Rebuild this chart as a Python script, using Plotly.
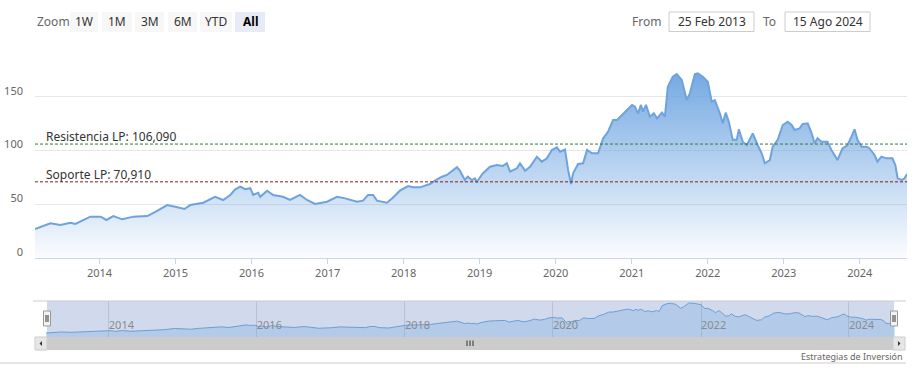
import plotly.graph_objects as go

# ---------------- data ----------------
dates = [
    "2013-02-25", "2013-05-10", "2013-06-27", "2013-08-14", "2013-09-07", "2013-11-18",
    "2014-01-06", "2014-02-03", "2014-03-08", "2014-04-20", "2014-06-13", "2014-08-19",
    "2014-09-26", "2014-11-22", "2015-01-10", "2015-02-13", "2015-03-13", "2015-05-14",
    "2015-07-10", "2015-08-18", "2015-09-21", "2015-10-15", "2015-11-08", "2015-12-02",
    "2015-12-26", "2016-01-09", "2016-02-02", "2016-02-12", "2016-03-16", "2016-04-14",
    "2016-06-01", "2016-07-04", "2016-08-21", "2016-09-24", "2016-11-01", "2016-12-29",
    "2017-02-15", "2017-03-26", "2017-05-22", "2017-06-20", "2017-07-14", "2017-08-07",
    "2017-08-26", "2017-10-13", "2017-11-06", "2017-12-14", "2018-01-22", "2018-02-15",
    "2018-03-20", "2018-05-07", "2018-06-10", "2018-07-04", "2018-07-28", "2018-08-21",
    "2018-09-14", "2018-09-28", "2018-10-22", "2018-11-05", "2018-11-25", "2018-12-09",
    "2018-12-19", "2019-01-17", "2019-02-20", "2019-03-25", "2019-04-23", "2019-05-12",
    "2019-05-27", "2019-06-29", "2019-07-14", "2019-08-07", "2019-08-31", "2019-10-03",
    "2019-10-27", "2019-11-20", "2019-12-14", "2020-01-07", "2020-01-22", "2020-02-15",
    "2020-03-01", "2020-03-15", "2020-03-25", "2020-04-18", "2020-05-12", "2020-05-31",
    "2020-06-24", "2020-07-23", "2020-08-16", "2020-09-09", "2020-10-03", "2020-10-22",
    "2020-11-15", "2020-12-09", "2021-01-02", "2021-01-16", "2021-01-31", "2021-02-14",
    "2021-02-24", "2021-03-10", "2021-03-29", "2021-04-17", "2021-05-02", "2021-05-26",
    "2021-06-09", "2021-06-23", "2021-07-17", "2021-08-05", "2021-08-29", "2021-09-22",
    "2021-10-07", "2021-10-31", "2021-11-14", "2021-12-08", "2022-01-01", "2022-01-20",
    "2022-02-04", "2022-02-28", "2022-03-14", "2022-03-28", "2022-04-12", "2022-05-01",
    "2022-05-20", "2022-05-30", "2022-06-18", "2022-07-07", "2022-08-05", "2022-08-29",
    "2022-09-17", "2022-10-02", "2022-10-26", "2022-11-09", "2022-12-03", "2022-12-27",
    "2023-01-20", "2023-02-08", "2023-02-22", "2023-03-18", "2023-04-02", "2023-04-26",
    "2023-05-15", "2023-05-29", "2023-06-12", "2023-07-01", "2023-07-30", "2023-08-18",
    "2023-09-16", "2023-10-10", "2023-11-03", "2023-11-22", "2023-12-07", "2023-12-21",
    "2024-01-10", "2024-02-03", "2024-02-17", "2024-03-12", "2024-03-26", "2024-04-14",
    "2024-05-08", "2024-06-06", "2024-06-20", "2024-07-01", "2024-07-20", "2024-08-03",
    "2024-08-15",
]
prices = [
    27.0, 32.3, 30.7, 32.9, 31.7, 38.5,
    38.5, 35.4, 39.0, 36.0, 38.5, 39.0,
    43.0, 49.3, 47.2, 45.6, 49.3, 51.5,
    57.0, 54.0, 58.7, 64.0, 66.4, 64.0,
    65.0, 58.7, 60.8, 57.0, 62.7, 58.7,
    57.0, 54.0, 58.7, 54.0, 50.3, 52.4,
    57.0, 55.5, 52.4, 53.4, 58.7, 58.7,
    53.4, 51.5, 55.5, 62.7, 67.0, 65.8,
    65.8, 68.9, 73.3, 75.7, 77.3, 81.3,
    84.5, 81.3, 72.6, 75.7, 72.6, 74.2,
    71.0, 78.9, 85.0, 86.6, 85.7, 88.2,
    80.4, 83.5, 88.2, 81.3, 85.0, 94.3,
    89.7, 92.8, 100.6, 103.0, 99.0, 101.0,
    82.0, 68.9, 78.9, 87.5, 88.2, 100.6,
    97.5, 97.5, 111.4, 117.6, 128.5, 128.5,
    133.0, 138.4, 142.5, 140.9, 134.7, 142.5,
    136.2, 142.5, 131.6, 134.7, 130.0, 135.3,
    131.6, 159.5, 168.8, 171.3, 165.7, 147.0,
    153.4, 171.3, 172.0, 168.8, 164.0, 145.5,
    147.0, 134.7, 125.4, 135.3, 126.9, 110.0,
    110.0, 119.8, 108.3, 105.0, 116.0, 105.0,
    97.5, 88.2, 91.2, 103.6, 110.0, 123.8,
    126.9, 123.8, 119.2, 120.7, 124.8, 125.4,
    116.0, 106.8, 111.4, 108.3, 108.3, 100.6,
    91.2, 102.0, 105.0, 113.0, 119.8, 110.0,
    103.6, 103.6, 102.0, 95.9, 89.7, 94.3,
    92.8, 92.8, 86.6, 74.2, 72.6, 74.2,
    78.2,
]

resistance_value = 106.09
support_value = 70.91
resistance_label = "Resistencia LP: 106,090"
support_label = "Soporte LP: 70,910"

y_tick_values = [0, 50, 100, 150]
x_tick_years = [2014, 2015, 2016, 2017, 2018, 2019, 2020, 2021, 2022, 2023, 2024]
nav_tick_years = [2014, 2016, 2018, 2020, 2022, 2024]

zoom_label = "Zoom"
zoom_buttons = ["1W", "1M", "3M", "6M", "YTD", "All"]
selected_button = "All"
from_label = "From"
to_label = "To"
from_date_text = "25 Feb 2013"
to_date_text = "15 Ago 2024"
credit_text = "Estrategias de Inversión"

# ---------------- layout helpers ----------------
W, H = 918, 385
FONT = "Noto Sans, Open Sans, DejaVu Sans, sans-serif"


def px(x):
    return x / W


def py(y):
    return 1 - y / H


fig = go.Figure()

# main area series
fig.add_trace(go.Scatter(
    x=dates, y=prices, mode="lines",
    line=dict(color="#6ea3dc", width=2),
    fill="tozeroy",
    fillgradient=dict(
        type="vertical",
        colorscale=[[0, "rgba(110,165,225,0.03)"], [1, "rgba(110,165,225,0.95)"]],
        start=0, stop=172,
    ),
    xaxis="x", yaxis="y", hoverinfo="skip", showlegend=False,
))

# navigator series
fig.add_trace(go.Scatter(
    x=dates, y=prices, mode="lines",
    line=dict(color="#6c9fd6", width=1),
    fill="tozeroy", fillcolor="rgba(110,165,225,0.30)",
    xaxis="x2", yaxis="y2", hoverinfo="skip", showlegend=False,
))

shapes = []
annotations = []

# support / resistance lines
for val, col in [(resistance_value, "#2e7d32"), (support_value, "#8b1a1a")]:
    shapes.append(dict(type="line", xref="x domain", yref="y", x0=0, x1=1, y0=val, y1=val,
                       line=dict(color=col, width=1, dash="3px,2px"), layer="above"))
annotations.append(dict(text=resistance_label, xref="paper", yref="y", x=px(44), y=resistance_value,
                        xanchor="left", yanchor="bottom", yshift=-3, showarrow=False,
                        font=dict(family=FONT, size=12, color="#333333")))
annotations.append(dict(text=support_label, xref="paper", yref="y", x=px(44), y=support_value,
                        xanchor="left", yanchor="bottom", yshift=-3, showarrow=False,
                        font=dict(family=FONT, size=12, color="#333333")))

# range selector
annotations.append(dict(text=zoom_label, xref="paper", yref="paper", x=px(35), y=py(21),
                        xanchor="left", yanchor="middle", showarrow=False,
                        font=dict(family=FONT, size=12, color="#666666")))
btn_x = [(70, 98), (102, 132), (135, 164), (168, 197), (200, 232), (235, 265)]
for lab, (x0, x1) in zip(zoom_buttons, btn_x):
    sel = lab == selected_button
    shapes.append(dict(type="rect", xref="paper", yref="paper", x0=px(x0), x1=px(x1),
                       y0=py(32), y1=py(12), fillcolor="#e6ebf5" if sel else "#f7f7f7",
                       line=dict(width=0)))
    annotations.append(dict(text=f"<b>{lab}</b>" if sel else lab, xref="paper", yref="paper",
                            x=px((x0 + x1) / 2), y=py(21.5), xanchor="center", yanchor="middle",
                            showarrow=False,
                            font=dict(family=FONT, size=12, color="#000000" if sel else "#333333")))

# date inputs
annotations.append(dict(text=from_label, xref="paper", yref="paper", x=px(663), y=py(21),
                        xanchor="right", yanchor="middle", showarrow=False,
                        font=dict(family=FONT, size=12, color="#666666")))
annotations.append(dict(text=to_label, xref="paper", yref="paper", x=px(778), y=py(21),
                        xanchor="right", yanchor="middle", showarrow=False,
                        font=dict(family=FONT, size=12, color="#666666")))
for (x0, x1), txt in [((669, 754), from_date_text), ((785, 870), to_date_text)]:
    shapes.append(dict(type="rect", xref="paper", yref="paper", x0=px(x0), x1=px(x1),
                       y0=py(31.5), y1=py(12), fillcolor="#ffffff",
                       line=dict(color="#cccccc", width=1)))
    annotations.append(dict(text=txt, xref="paper", yref="paper", x=px((x0 + x1) / 2), y=py(21.5),
                            xanchor="center", yanchor="middle", showarrow=False,
                            font=dict(family=FONT, size=12, color="#333333")))

# navigator mask & outline
shapes.append(dict(type="rect", xref="paper", yref="paper", x0=px(47), x1=px(894),
                   y0=py(337), y1=py(301), fillcolor="rgba(102,133,194,0.30)",
                   line=dict(width=0), layer="below"))
shapes.append(dict(type="line", xref="paper", yref="paper", x0=px(33), x1=px(906),
                   y0=py(301), y1=py(301), line=dict(color="#cccccc", width=1)))

# navigator handles
for hx in (47, 894):
    shapes.append(dict(type="rect", xref="paper", yref="paper", x0=px(hx - 3.5), x1=px(hx + 3.5),
                       y0=py(326), y1=py(311), fillcolor="#f2f2f2",
                       line=dict(color="#999999", width=1)))
    for dx in (-1, 1):
        shapes.append(dict(type="line", xref="paper", yref="paper", x0=px(hx + dx), x1=px(hx + dx),
                           y0=py(322), y1=py(315), line=dict(color="#333333", width=1)))

# scrollbar
shapes.append(dict(type="rect", xref="paper", yref="paper", x0=px(35), x1=px(905),
                   y0=py(350), y1=py(337), fillcolor="#cccccc", line=dict(width=0)))
for x0, x1 in [(35, 47), (893, 905)]:
    shapes.append(dict(type="rect", xref="paper", yref="paper", x0=px(x0), x1=px(x1),
                       y0=py(350), y1=py(337), fillcolor="#e6e6e6",
                       line=dict(color="#cccccc", width=1)))
# arrows
shapes.append(dict(type="path", xref="paper", yref="paper",
                   path=f"M {px(39.5)} {py(343.5)} L {px(42)} {py(341)} L {px(42)} {py(346)} Z",
                   fillcolor="#333333", line=dict(width=0)))
shapes.append(dict(type="path", xref="paper", yref="paper",
                   path=f"M {px(900.5)} {py(343.5)} L {px(898)} {py(341)} L {px(898)} {py(346)} Z",
                   fillcolor="#333333", line=dict(width=0)))
for gx in (467, 470, 473):
    shapes.append(dict(type="line", xref="paper", yref="paper", x0=px(gx), x1=px(gx),
                       y0=py(346), y1=py(340.5), line=dict(color="#333333", width=1)))

# bottom separator + credit
shapes.append(dict(type="line", xref="paper", yref="paper", x0=0, x1=px(906),
                   y0=py(363), y1=py(363), line=dict(color="#cccccc", width=1)))
annotations.append(dict(text=credit_text, xref="paper", yref="paper", x=px(905), y=py(356),
                        xanchor="right", yanchor="middle", showarrow=False,
                        font=dict(family=FONT, size=9, color="#666666")))

fig.update_layout(
    width=W, height=H,
    autosize=False,
    margin=dict(l=0, r=0, t=0, b=0, pad=0, autoexpand=False),
    paper_bgcolor="#ffffff", plot_bgcolor="rgba(0,0,0,0)",
    font=dict(family=FONT, color="#666666", size=11),
    showlegend=False,
    hovermode=False,
    xaxis=dict(
        domain=[px(35), px(907)], anchor="y", type="date", automargin=False,
        range=[dates[0], dates[-1]],
        tickvals=[f"{y}-01-01" for y in x_tick_years],
        ticktext=[str(y) for y in x_tick_years],
        showgrid=False, zeroline=False,
        showline=True, linecolor="#ccd6eb", linewidth=1,
        ticks="outside", ticklen=5, tickcolor="#ccd6eb",
        tickfont=dict(family=FONT, size=11, color="#666666"),
    ),
    yaxis=dict(
        domain=[py(258), py(55)], anchor="x", automargin=False,
        range=[0, 189],
        tickvals=y_tick_values, ticktext=[str(v) for v in y_tick_values],
        showgrid=True, gridcolor="#e6e6e6", gridwidth=1,
        zeroline=False, showline=False, ticks="",
        ticklabelshift=-6, ticklabelstandoff=11,
        tickfont=dict(family=FONT, size=11, color="#666666"),
    ),
    xaxis2=dict(
        domain=[px(46), px(895)], anchor="y2", type="date", automargin=False,
        range=[dates[0], dates[-1]],
        tickvals=[f"{y}-01-01" for y in nav_tick_years],
        ticktext=[str(y) for y in nav_tick_years],
        showgrid=True, gridcolor="#b8c2d6", gridwidth=1,
        zeroline=False, showline=False, ticks="",
        ticklabelposition="inside right",
        tickfont=dict(family=FONT, size=11, color="#8a8a8a"),
    ),
    yaxis2=dict(
        domain=[py(337), py(301)], anchor="x2", automargin=False,
        range=[8, 182],
        showgrid=False, zeroline=False, showline=False,
        showticklabels=False, ticks="",
    ),
    shapes=shapes,
    annotations=annotations,
)

fig.write_html("out.html", config={"displayModeBar": False, "responsive": False},
               post_script="document.body.style.margin='0px';")
